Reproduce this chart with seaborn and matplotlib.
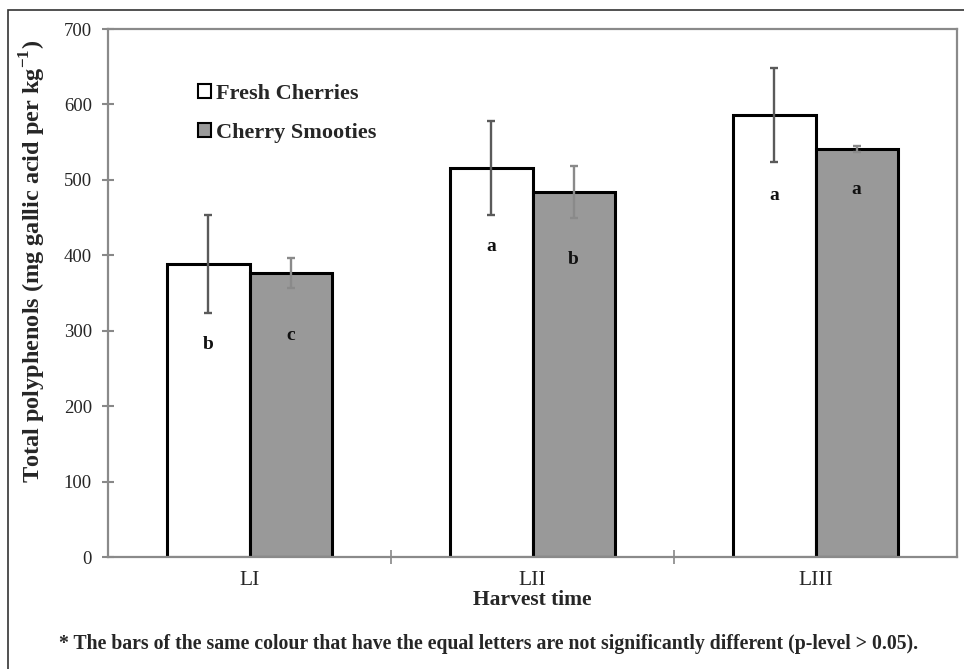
import numpy as np
import pandas as pd
import matplotlib
matplotlib.use("Agg")
import matplotlib.pyplot as plt
import seaborn as sns
from matplotlib.patches import Rectangle
from matplotlib.ticker import FixedLocator

harvest = ["LI", "LII", "LIII"]
series = ["Fresh Cherries", "Cherry Smooties"]
fresh = [388, 516, 586]
smoothie = [376, 484, 541]
fresh_err = [65, 62, 62]
smoothie_err = [20, 35, 4]
fresh_letters = ["b", "a", "a"]
smoothie_letters = ["c", "b", "a"]
fresh_letter_y = [282, 412, 479]
smoothie_letter_y = [293, 395, 487]
yticks = [0, 100, 200, 300, 400, 500, 600, 700]

sns.set_theme(style="white")
plt.rcParams["font.family"] = ["Liberation Serif", "DejaVu Serif"]
plt.rcParams["mathtext.fontset"] = "custom"
plt.rcParams["mathtext.rm"] = "Liberation Serif"
plt.rcParams["mathtext.bf"] = "Liberation Serif:bold"

W, H = 964, 669
fig = plt.figure(figsize=(W / 100, H / 100), dpi=100)
ax = fig.add_axes([108 / W, 1 - 557 / H, (957 - 108) / W, (557 - 29) / H])

df = pd.DataFrame({
    "Harvest": harvest * 2,
    "Series": [s for s in series for _ in harvest],
    "Value": fresh + smoothie,
})
sns.barplot(data=df, x="Harvest", y="Value", hue="Series", order=harvest,
            hue_order=series, palette=["white", "#999999"], edgecolor="black",
            linewidth=2.2, width=0.58, errorbar=None, saturation=1, ax=ax)

errs = [fresh_err, smoothie_err]
vals = [fresh, smoothie]
ecols = ["#5a5a5a", "#8a8a8a"]
letters = [fresh_letters, smoothie_letters]
letter_y = [fresh_letter_y, smoothie_letter_y]
bar_containers = list(ax.containers)[:2]
for i, cont in enumerate(bar_containers):
    xs = [p.get_x() + p.get_width() / 2 for p in cont.patches]
    ax.errorbar(xs, vals[i], yerr=errs[i], fmt="none", ecolor=ecols[i],
                elinewidth=1.7, capsize=3, capthick=1.7, zorder=5)
    for x, t, yy in zip(xs, letters[i], letter_y[i]):
        ax.text(x, yy, t, ha="center", va="center", fontsize=14,
                fontweight="bold", color="#111111", zorder=6)

ax.set_xlim(-0.5, 2.5)
ax.set_ylim(0, 700)
ax.set_yticks(yticks)
ax.set_yticklabels([str(v) for v in yticks])
ax.xaxis.set_minor_locator(FixedLocator([0.5, 1.5]))
ax.tick_params(axis="y", which="major", direction="inout", length=9, width=1.5,
               color="#888888", labelsize=13.5, pad=7, left=True)
ax.tick_params(axis="x", which="major", length=0, labelsize=15.5, pad=10)
ax.tick_params(axis="x", which="minor", direction="inout", length=10, width=1.2,
               color="#888888", bottom=True)
for s in ax.spines.values():
    s.set_color("#8a8a8a")
    s.set_linewidth(1.6)
    s.set_visible(True)

ax.set_xlabel("Harvest time", fontsize=15.5, fontweight="bold", labelpad=0)
ax.set_ylabel(r"Total polyphenols (mg gallic acid per kg$^{\mathbf{-1}}$)",
              fontsize=17.5, fontweight="bold")
ax.yaxis.set_label_coords((48 - 108) / 849, 0.56)

leg = ax.legend(loc="upper left", bbox_to_anchor=(0.083, 0.934), frameon=False,
                prop={"weight": "bold", "size": 16}, handlelength=0.55,
                handleheight=0.55, handletextpad=0.25, labelspacing=0.85)
for h in leg.legend_handles:
    h.set_linewidth(1.5)
    h.set_edgecolor("black")

fig.text(489 / W, 1 - 644 / H,
         "* The bars of the same colour that have the equal letters are not significantly different (p-level > 0.05).",
         ha="center", va="center", fontsize=14.2, fontweight="bold")

fig.patches.append(Rectangle((8 / W, -0.2), 1.2, 1.2 - 10 / H, transform=fig.transFigure,
                             fill=False, edgecolor="#333333", linewidth=1.2))

fig.savefig("out.png", dpi=100)
